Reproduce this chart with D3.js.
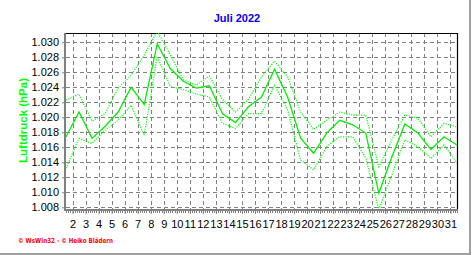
<!DOCTYPE html>
<html><head><meta charset="utf-8">
<script src="https://cdn.jsdelivr.net/npm/d3@7"></script>
<style>html,body{margin:0;padding:0;background:#fff;overflow:hidden}</style>
</head><body>
<script>
const days = d3.range(1, 32);
const meanP = [1.0174,1.0207,1.0172,1.0188,1.0207,1.0240,1.0217,1.0298,1.0265,1.0248,
  1.0239,1.0242,1.0205,1.0193,1.0214,1.0227,1.0264,1.0227,1.0172,1.0152,
  1.0179,1.0196,1.0190,1.0179,1.0099,1.0147,1.0191,1.0179,1.0157,1.0174,1.0163];
const maxP = [1.0223,1.0231,1.0195,1.0205,1.0239,1.0256,1.0283,1.0315,1.0283,1.0250,
  1.0243,1.0255,1.0224,1.0207,1.0224,1.0254,1.0275,1.0254,1.0207,1.0184,
  1.0196,1.0207,1.0203,1.0203,1.0134,1.0170,1.0203,1.0199,1.0174,1.0192,1.0187];
const minP = [1.0132,1.0172,1.0165,1.0183,1.0196,1.0216,1.0176,1.0281,1.0241,1.0237,
  1.0231,1.0227,1.0192,1.0185,1.0205,1.0205,1.0243,1.0210,1.0143,1.0130,
  1.0161,1.0174,1.0174,1.0146,1.0077,1.0123,1.0170,1.0161,1.0145,1.0163,1.0139];
const yTicks = [1.008,1.010,1.012,1.014,1.016,1.018,1.020,1.022,1.024,1.026,1.028,1.030];
const xTicks = d3.range(2, 32);
const xTickLabels = xTicks.map(String);
const title = "Juli 2022";
const yLabel = "Luftdruck (hPa)";
const footer = "\u00A9 WsWin32 - \u00A9 Heiko Blädern";

const W = 472, H = 255;
const L = 66, R = 457, T = 33, B = 209.5;
const svg = d3.select("body").append("svg").attr("width", W).attr("height", H);

const x = d3.scaleLinear().domain([1.5, 31.5]).range([L, R]);
const y = d3.scaleLinear().domain([1.008, 1.030]).range([207.3, 42.3]);

// window frame
svg.append("line").attr("x1", 470).attr("x2", 470).attr("y1", 0).attr("y2", H)
  .attr("stroke", "#a0a0a0").attr("stroke-width", 2);
svg.append("line").attr("x1", 0).attr("x2", 471).attr("y1", 254).attr("y2", 254)
  .attr("stroke", "#a0a0a0").attr("stroke-width", 2);

// grid
const grid = svg.append("g").attr("shape-rendering", "crispEdges")
  .attr("stroke", "#808080").attr("stroke-dasharray", "4,3");
grid.selectAll("line.h").data(yTicks).join("line")
  .attr("x1", L).attr("x2", R).attr("y1", d => Math.round(y(d)) + 0.5).attr("y2", d => Math.round(y(d)) + 0.5);
grid.selectAll("line.v").data(xTicks).join("line")
  .attr("x1", d => Math.round(x(d)) + 0.5).attr("x2", d => Math.round(x(d)) + 0.5).attr("y1", T).attr("y2", B);

// top & right border
svg.append("path").attr("d", `M${L},${T + 0.5}H${R + 0.5}V${B}`)
  .attr("fill", "none").attr("stroke", "#000").attr("stroke-width", 1.2);

// clip
svg.append("clipPath").attr("id", "clip").append("rect")
  .attr("x", L).attr("y", T).attr("width", R - L).attr("height", B - T);

const line = arr => d3.line().x((d, i) => x(days[i] + 0.5)).y(d => y(d))(arr);
const lines = svg.append("g").attr("clip-path", "url(#clip)");
lines.append("path").attr("d", line(maxP)).attr("fill", "none")
  .attr("stroke", "#00ff00").attr("stroke-width", 1.2).attr("stroke-dasharray", "1.2,1.3");
lines.append("path").attr("d", line(minP)).attr("fill", "none")
  .attr("stroke", "#00ff00").attr("stroke-width", 1.2).attr("stroke-dasharray", "1.2,1.3");
lines.append("path").attr("d", line(meanP)).attr("fill", "none")
  .attr("stroke", "#00f000").attr("stroke-width", 1.3);

// y axis
const yAxis = d3.axisLeft(y).tickValues(yTicks).tickSize(3).tickSizeOuter(0)
  .tickFormat(d => d.toFixed(3)).tickPadding(3);
const ya = svg.append("g").attr("transform", `translate(${L - 1},0)`).call(yAxis);
ya.select(".domain").attr("d", `M0,${T}V${B + 1}`).attr("stroke", "#808080").attr("stroke-width", 2);
ya.selectAll(".tick line").attr("stroke", "#808080");
ya.selectAll("text").attr("font-family", "Liberation Sans, Arial, sans-serif").attr("font-size", 11)
  .attr("fill", "#000");

// x axis
const xa = svg.append("g").attr("transform", `translate(0,${B + 0.5})`);
xa.append("line").attr("x1", L - 2).attr("x2", R + 1).attr("y1", 0).attr("y2", 0)
  .attr("stroke", "#808080").attr("stroke-width", 2);
const minor = d3.range(1.5, 31.5 + 1e-9, 1 / 6);
xa.selectAll("line.mt").data(minor).join("line").attr("class", "mt")
  .attr("x1", d => Math.round(x(d)) + 0.5).attr("x2", d => Math.round(x(d)) + 0.5)
  .attr("y1", 0).attr("y2", 3).attr("stroke", "#808080").attr("shape-rendering", "crispEdges");
const xAxis = d3.axisBottom(x).tickValues(xTicks).tickSize(4).tickSizeOuter(0)
  .tickFormat((d, i) => xTickLabels[i]).tickPadding(6);
const xg = xa.append("g").call(xAxis);
xg.select(".domain").remove();
xg.selectAll(".tick line").attr("stroke", "#808080");
xg.selectAll("text").attr("font-family", "Liberation Sans, Arial, sans-serif").attr("font-size", 11).attr("fill", "#000");

// title
svg.append("text").attr("x", 237).attr("y", 22).attr("text-anchor", "middle")
  .attr("font-family", "Liberation Sans, Arial, sans-serif").attr("font-weight", "bold")
  .attr("font-size", 11).attr("fill", "#0000ff").text(title);

// y label
svg.append("text").attr("transform", "translate(26.5,120.5) rotate(-90)").attr("text-anchor", "middle")
  .attr("font-family", "Liberation Sans, Arial, sans-serif").attr("font-weight", "bold")
  .attr("font-size", 11.5).attr("fill", "#00ff00").text(yLabel);

// footer
svg.append("text").attr("x", 18).attr("y", 242.5)
  .attr("font-family", "DejaVu Sans, sans-serif").attr("font-weight", "bold")
  .attr("font-size", 7).attr("fill", "#ff0000")
  .attr("textLength", 95).attr("lengthAdjust", "spacingAndGlyphs").text(footer);
</script>
</body></html>
